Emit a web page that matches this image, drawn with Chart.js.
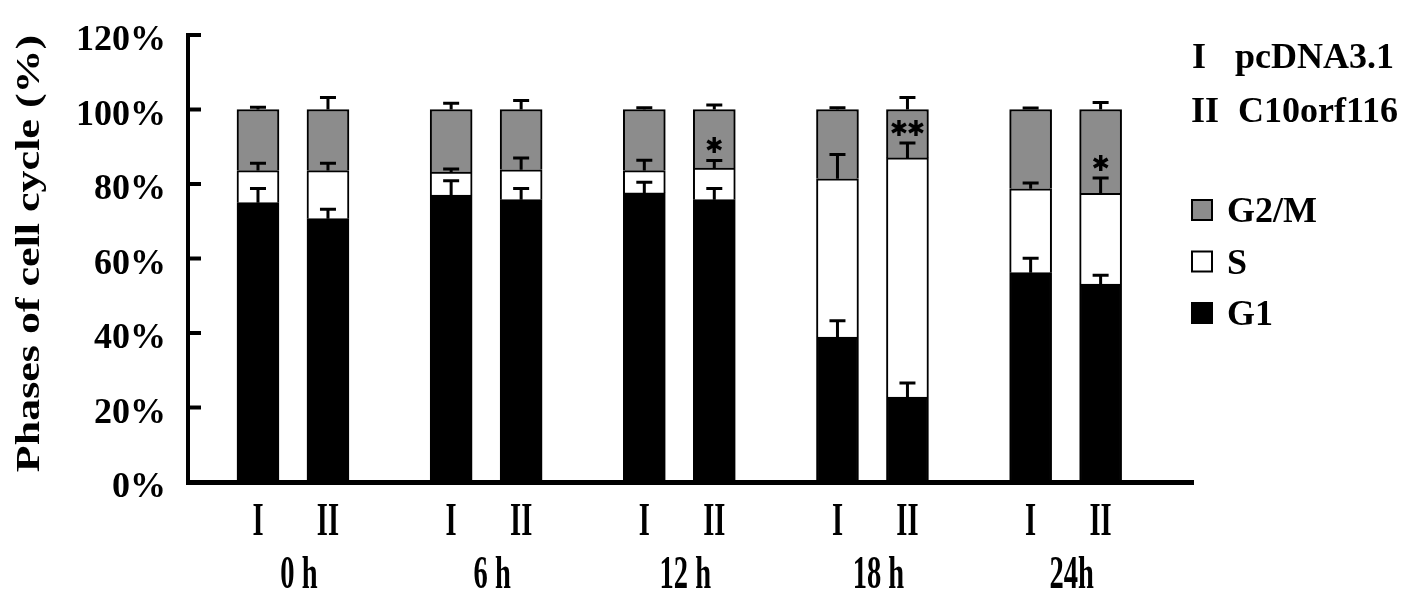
<!DOCTYPE html>
<html>
<head>
<meta charset="utf-8">
<script src="https://cdn.jsdelivr.net/npm/chart.js@4"></script>
<style>
  body { margin: 0; background: white; }
</style>
</head>
<body>
<canvas id="chart" width="1417" height="602"></canvas>
<script>
// Time points and the two constructs compared at each one
var timePoints = ['0 h', '6 h', '12 h', '18 h', '24h'];
var groupNames = ['I', 'II'];
var constructNames = ['pcDNA3.1', 'C10orf116'];

// Percent of cells per phase, bar order: 0h I, 0h II, 6h I, 6h II, ...
var g1Values = [75.0, 70.7, 77.0, 75.8, 77.6, 75.8, 38.9, 22.8, 56.2, 53.1];
var sValues = [8.6, 12.9, 6.2, 8.0, 6.0, 8.5, 42.5, 64.2, 22.5, 24.4];
var g2mValues = [16.4, 16.4, 16.8, 16.2, 16.4, 15.7, 18.6, 13.0, 21.3, 22.5];

// Error bars for each phase
var g1Errors = [3.8, 2.5, 3.9, 3.0, 2.9, 3.0, 4.4, 3.8, 3.9, 2.4];
var sErrors = [2.0, 2.0, 0.8, 3.2, 2.8, 2.0, 6.5, 4.0, 1.6, 4.1];
var g2mErrors = [0.6, 3.2, 1.7, 2.4, 0.5, 1.2, 0.5, 3.2, 0.4, 1.9];

// Significance marks above the S error bar
var significance = ['', '', '', '', '', '*', '', '**', '', '*'];

var yTicks = [0, 20, 40, 60, 80, 100, 120];

var errorsByDataset = [g1Errors, sErrors, g2mErrors];
var serif = '"Liberation Serif", "Times New Roman", serif';

// bars sit in pairs, with a wider gap between time points
var groupStep = 2.76;
function barX(i) { return Math.floor(i / 2) * groupStep + (i % 2); }
function points(values) {
  return values.map(function (v, i) { return { x: barX(i), y: v }; });
}

function stackTop(chart, d, i) {
  var sum = 0;
  for (var k = 0; k <= d; k++) sum += chart.data.datasets[k].data[i].y;
  return sum;
}

var extrasPlugin = {
  id: 'extras',
  afterDraw: function (chart) {
    var ctx = chart.ctx;
    var ys = chart.scales.y;
    var area = chart.chartArea;
    ctx.save();

    // inward y ticks
    ctx.strokeStyle = 'black';
    ctx.lineWidth = 4;
    yTicks.forEach(function (v) {
      var py = ys.getPixelForValue(v);
      ctx.beginPath();
      ctx.moveTo(area.left, py);
      ctx.lineTo(area.left + 13, py);
      ctx.stroke();
    });

    // error bars
    ctx.lineWidth = 3;
    chart.data.datasets.forEach(function (ds, d) {
      var meta = chart.getDatasetMeta(d);
      meta.data.forEach(function (bar, i) {
        var total = stackTop(chart, d, i);
        var from = ys.getPixelForValue(total);
        var to = ys.getPixelForValue(total + errorsByDataset[d][i]);
        ctx.beginPath();
        ctx.moveTo(bar.x, from);
        ctx.lineTo(bar.x, to);
        ctx.moveTo(bar.x - 8, to);
        ctx.lineTo(bar.x + 8, to);
        ctx.stroke();
      });
    });

    // significance stars
    var g1Meta = chart.getDatasetMeta(0);
    ctx.fillStyle = 'black';
    ctx.font = 'bold 22px "DejaVu Sans"';
    ctx.textAlign = 'center';
    ctx.textBaseline = 'middle';
    significance.forEach(function (mark, i) {
      if (!mark) return;
      var bar = g1Meta.data[i];
      var py = ys.getPixelForValue(stackTop(chart, 1, i) + sErrors[i]) - 13;
      var n = mark.length;
      for (var k = 0; k < n; k++) {
        ctx.fillText('\u2731', bar.x + (k - (n - 1) / 2) * 17, py);
      }
    });

    // x labels, condensed like the original
    ctx.textBaseline = 'alphabetic';
    ctx.font = 'bold 46px ' + serif;
    g1Meta.data.forEach(function (bar, i) {
      ctx.save();
      ctx.translate(bar.x, 535);
      ctx.scale(0.62, 1);
      ctx.fillText(groupNames[i % 2], 0, 0);
      ctx.restore();
    });
    timePoints.forEach(function (label, g) {
      var cx = (g1Meta.data[2 * g].x + g1Meta.data[2 * g + 1].x) / 2 + 6;
      ctx.save();
      ctx.translate(cx, 588);
      ctx.scale(0.62, 1);
      ctx.fillText(label, 0, 0);
      ctx.restore();
    });

    // y title
    ctx.save();
    ctx.translate(30, (area.top + area.bottom) / 2 - 5);
    ctx.rotate(-Math.PI / 2);
    ctx.scale(1, 0.75);
    ctx.font = 'bold 44px ' + serif;
    ctx.textBaseline = 'middle';
    ctx.fillText('Phases of cell cycle (%)', 0, 0);
    ctx.restore();

    // construct key
    ctx.textAlign = 'left';
    ctx.font = 'bold 36px ' + serif;
    ctx.fillText('I', 1192, 68);
    ctx.fillText(constructNames[0], 1235, 68);
    ctx.fillText('II', 1191, 122);
    ctx.fillText(constructNames[1], 1238, 122);

    // phase legend, top to bottom G2/M, S, G1
    var order = [2, 1, 0];
    order.forEach(function (d, k) {
      var ds = chart.data.datasets[d];
      var top = 200 + k * 51.5;
      ctx.fillStyle = ds.backgroundColor;
      ctx.fillRect(1192, top, 20, 20);
      ctx.strokeStyle = 'black';
      ctx.lineWidth = 2;
      ctx.strokeRect(1192, top, 20, 20);
      ctx.fillStyle = 'black';
      ctx.fillText(ds.label, 1227, top + 22);
    });

    ctx.restore();
  }
};

var barStyle = { borderColor: 'black', borderWidth: 2, barThickness: 42 };

new Chart(document.getElementById('chart'), {
  type: 'bar',
  data: {
    datasets: [
      Object.assign({ label: 'G1', data: points(g1Values), backgroundColor: '#000000' }, barStyle),
      Object.assign({ label: 'S', data: points(sValues), backgroundColor: '#ffffff' }, barStyle),
      Object.assign({ label: 'G2/M', data: points(g2mValues), backgroundColor: '#8c8c8c' }, barStyle)
    ]
  },
  options: {
    responsive: false,
    animation: false,
    events: [],
    layout: { padding: { top: 35, right: 224, bottom: 120, left: 0 } },
    plugins: { legend: { display: false }, tooltip: { enabled: false } },
    scales: {
      x: {
        type: 'linear',
        stacked: true,
        offset: false,
        min: -1.0,
        max: 13.36,
        grid: { display: false, drawTicks: false },
        border: { display: true, color: 'black', width: 5 },
        ticks: { display: false },
        afterFit: function (scale) { scale.height = 0; }
      },
      y: {
        stacked: true,
        min: 0,
        max: 120,
        grid: { display: false, drawTicks: false },
        border: { display: true, color: 'black', width: 4 },
        ticks: {
          stepSize: 20,
          padding: 22,
          labelOffset: 6,
          color: 'black',
          font: { family: serif, size: 36, weight: 'bold' },
          callback: function (v) { return v + '%'; }
        },
        afterFit: function (scale) {
          scale.width = 188;
          scale.paddingTop = 0;
          scale.paddingBottom = 0;
        }
      }
    }
  },
  plugins: [extrasPlugin]
});
</script>
</body>
</html>
